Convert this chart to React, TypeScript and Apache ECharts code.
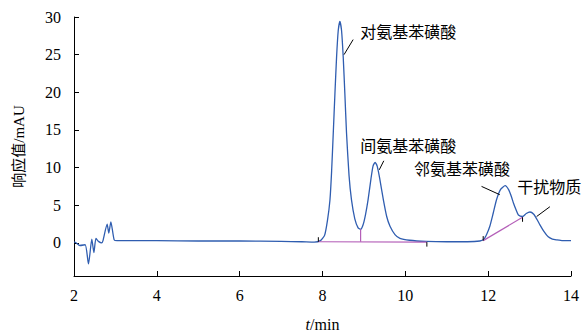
import React, { useEffect, useRef } from "react";
import * as echarts from "echarts";

const times = [2.0, 2.02, 2.14, 2.27, 2.35, 2.43, 2.48, 2.53, 2.59, 2.67, 2.7, 2.8, 2.84, 2.89, 2.97, 3.04, 3.5, 4.0, 5.0, 6.0, 7.0, 7.5, 7.8, 7.95, 8.05, 8.12, 8.18, 8.22, 8.26, 8.3, 8.34, 8.38, 8.42, 8.46, 8.5, 8.54, 8.58, 8.64, 8.7, 8.78, 8.86, 8.92, 8.98, 9.04, 9.1, 9.17, 9.22, 9.27, 9.32, 9.38, 9.47, 9.55, 9.63, 9.75, 9.87, 10.1, 10.5, 11.0, 11.5, 11.8, 11.9, 11.97, 12.04, 12.12, 12.2, 12.3, 12.41, 12.5, 12.57, 12.61, 12.68, 12.73, 12.83, 12.92, 13.01, 13.1, 13.18, 13.25, 13.35, 13.45, 13.55, 13.65, 13.8, 14.0];
const signal = [0.1, 0.1, -0.35, -0.25, -2.8, 0.5, -1.3, 0.6, 0.2, 0.0, 0.3, 2.5, 1.3, 2.8, 0.4, 0.3, 0.3, 0.3, 0.25, 0.25, 0.2, 0.15, 0.1, 0.3, 1.0, 3.0, 5.7, 9.5, 14.6, 19.8, 24.7, 28.2, 29.4, 28.2, 24.7, 19.8, 14.6, 9.0, 5.7, 3.2, 2.0, 1.8, 2.4, 3.8, 5.7, 8.5, 10.2, 10.7, 10.2, 8.6, 5.7, 3.5, 2.2, 1.1, 0.6, 0.35, 0.2, 0.15, 0.15, 0.25, 0.5, 1.2, 2.2, 3.9, 5.7, 7.1, 7.6, 7.0, 6.0, 5.3, 4.3, 3.7, 3.5, 3.9, 4.1, 3.8, 3.1, 2.4, 1.5, 0.8, 0.5, 0.4, 0.3, 0.3];

const xTicks = [2, 4, 6, 8, 10, 12, 14];
const yTicks = [0, 5, 10, 15, 20, 25, 30];

// integration baselines (magenta)
const baseline1 = [[7.9, 0.15], [10.52, 0.1]];
const baseline2 = [[11.88, 0.3], [12.83, 3.4]];
const dropLine = [[8.92, 0.15], [8.92, 1.8]];
// small black integration marks
const marks = [
  [[7.9, 0.15], [7.9, 0.75]],
  [[10.52, 0.1], [10.52, -0.5]],
  [[11.88, 0.3], [11.88, 0.9]],
  [[12.83, 3.4], [12.83, 2.8]],
];

const annNames = ["对氨基苯磺酸", "间氨基苯磺酸", "邻氨基苯磺酸", "干扰物质"];
const annLineFrom = [[8.52, 25.0], [9.37, 9.7], [12.28, 6.4], [13.17, 3.5]];
const annLineTo = [[8.74, 27.0], [9.48, 10.9], [11.84, 7.5], [13.49, 4.8]];
const annText = [[8.91, 27.9], [8.91, 12.75], [10.21, 9.7], [12.7, 7.3]];

const FONT = '"Liberation Serif", "Times New Roman", "Noto Sans CJK SC", serif';

export default function App() {
  const ref = useRef<HTMLDivElement>(null);
  useEffect(() => {
    if (!ref.current) return;
    const chart = echarts.init(ref.current, null, { renderer: "svg" });
    const series: any[] = [
      {
        type: "line",
        data: times.map((t, i) => [t, signal[i]]),
        smooth: 0.2,
        symbol: "none",
        lineStyle: { color: "#2f5db0", width: 1.3 },
        z: 3,
      },
      {
        type: "line",
        data: baseline1,
        symbol: "none",
        lineStyle: { color: "#b45fb8", width: 1.2 },
        z: 4,
      },
      {
        type: "line",
        data: baseline2,
        symbol: "none",
        lineStyle: { color: "#b45fb8", width: 1.2 },
        z: 4,
      },
      {
        type: "line",
        data: dropLine,
        symbol: "none",
        lineStyle: { color: "#b45fb8", width: 1.2 },
        z: 4,
      },
      ...marks.map((m) => ({
        type: "line",
        data: m,
        symbol: "none",
        lineStyle: { color: "#000", width: 1 },
        z: 5,
      })),
      ...annLineFrom.map((f, i) => ({
        type: "line",
        data: [f, annLineTo[i]],
        symbol: "none",
        lineStyle: { color: "#000", width: 1 },
        z: 5,
      })),
    ];
    chart.setOption({
      animation: false,
      backgroundColor: "#fff",
      textStyle: { fontFamily: FONT },
      grid: { left: 74, right: 13, top: 17, bottom: 55, outerBoundsMode: "none", containLabel: false },
      xAxis: {
        type: "value",
        min: 2,
        max: 14,
        interval: 2,
        name: "{i|t}{n|/min}",
        nameLocation: "middle",
        nameGap: 40,
        nameTextStyle: {
          color: "#000",
          fontFamily: FONT,
          fontSize: 16,
          rich: {
            i: { fontStyle: "italic", fontFamily: FONT, fontSize: 16, color: "#000" },
            n: { fontFamily: FONT, fontSize: 16, color: "#000" },
          },
        },
        axisLine: { onZero: false, lineStyle: { color: "#000", width: 1 } },
        axisTick: { inside: true, length: 5, lineStyle: { color: "#000" } },
        axisLabel: { color: "#000", fontFamily: FONT, fontSize: 16, margin: 11, customValues: xTicks },
        splitLine: { show: false },
      },
      yAxis: {
        type: "value",
        min: -4.4,
        max: 30,
        name: "响应值/mAU",
        nameLocation: "middle",
        nameGap: 48,
        nameTextStyle: { color: "#000", fontFamily: FONT, fontSize: 15 },
        axisLine: { show: true, lineStyle: { color: "#000", width: 1 } },
        axisTick: { inside: true, length: 5, lineStyle: { color: "#000" }, customValues: yTicks },
        axisLabel: { color: "#000", fontFamily: FONT, fontSize: 16, margin: 13, customValues: yTicks },
        splitLine: { show: false },
      },
      series,
    });
    const graphics = annNames.map((name, i) => {
      const p = chart.convertToPixel({ gridIndex: 0 }, annText[i]) as number[];
      return {
        type: "text",
        x: p[0],
        y: p[1],
        style: {
          text: name,
          fill: "#000",
          fontFamily: FONT,
          fontSize: 16,
          align: "left",
          verticalAlign: "middle",
        },
        z: 10,
      };
    });
    chart.setOption({ graphic: graphics });
    return () => chart.dispose();
  }, []);
  return (
    <div
      ref={ref}
      style={{ position: "fixed", left: 0, top: 0, width: 584, height: 331 }}
    />
  );
}
